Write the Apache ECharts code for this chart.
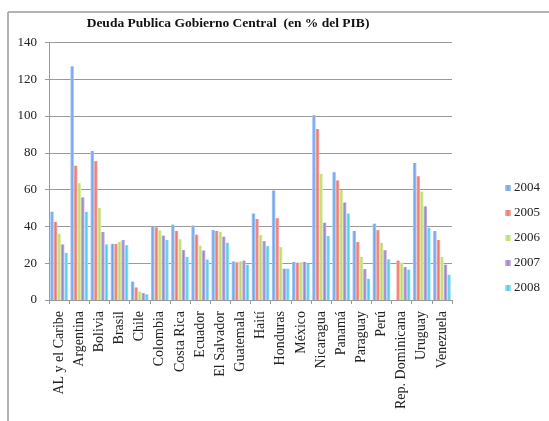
<!DOCTYPE html>
<html>
<head>
<meta charset="utf-8">
<title>Deuda Publica</title>
<script src="https://cdn.jsdelivr.net/npm/echarts@6/dist/echarts.min.js"></script>
<style>
  html, body { margin: 0; padding: 0; background: #fff; }
  #main { width: 549px; height: 421px; }
</style>
</head>
<body>
<div id="main"></div>
<script type="text/javascript">
var paises = ['AL y el Caribe', 'Argentina', 'Bolivia', 'Brasil', 'Chile', 'Colombia', 'Costa Rica',
  'Ecuador', 'El Salvador', 'Guatemala', 'Haití', 'Honduras', 'México', 'Nicaragua', 'Panamá',
  'Paraguay', 'Perú', 'Rep. Dominicana', 'Uruguay', 'Venezuela'];
var anios = ['2004', '2005', '2006', '2007', '2008'];

var d2004 = [48, 127, 81, 30.5, 10, 40, 41, 40.5, 38, 21, 47, 59.5, 20.7, 100.5, 69.5, 37.5, 41.5, null, 74.5, 37.5];
var d2005 = [42.5, 73, 75.5, 30.5, 6.8, 39.5, 37.5, 35.5, 37.5, 20.5, 44, 44.5, 20.3, 93, 65, 31.5, 38, 21.4, 67.3, 32.6];
var d2006 = [36, 63.5, 50, 31.6, 4.6, 37.8, 33, 29.6, 37, 21, 35.3, 28.7, 20.5, 68.6, 59.8, 23.4, 31, 20.3, 58.9, 23.4];
var d2007 = [30.2, 55.8, 37, 32.6, 3.7, 35, 27.1, 26.9, 34.4, 21.4, 32, 17, 20.7, 42, 53, 16.8, 27.1, 17.9, 50.9, 19.2];
var d2008 = [25.6, 47.9, 30.2, 29.8, 3.1, 32.6, 23.4, 22, 31.1, 19.2, 29.3, 17, 19.8, 34.8, 47, 11.5, 22.1, 16.5, 39.3, 13.7];

var yTicks = [0, 20, 40, 60, 80, 100, 120, 140];

var colores = [
  ['#b3d0f8', '#6ea3ea'],
  ['#f8b5ae', '#ec766d'],
  ['#e6f3b8', '#b8da68'],
  ['#d0c1ea', '#9b82c9'],
  ['#ace9f8', '#4fc8ea']
];

var myChart = echarts.init(document.getElementById('main'));

function grad(c) {
  return new echarts.graphic.LinearGradient(0, 0, 1, 0, [
    { offset: 0, color: c[0] },
    { offset: 0.5, color: c[1] },
    { offset: 1, color: c[0] }
  ]);
}

var datos = [d2004, d2005, d2006, d2007, d2008];
var series = anios.map(function (a, i) {
  return {
    name: a,
    type: 'bar',
    barGap: '0%',
    barCategoryGap: '12%',
    itemStyle: { color: grad(colores[i]) },
    data: datos[i]
  };
});

var serif = '"Liberation Serif", "DejaVu Serif", serif';

var option = {
  backgroundColor: '#fff',
  animation: false,
  color: colores.map(function (c) { return c[1]; }),
  title: {
    text: 'Deuda Publica Gobierno Central  (en % del PIB)',
    left: 223,
    textAlign: 'center',
    top: 12,
    textStyle: { fontFamily: serif, fontSize: 13.5, fontWeight: 'bold', color: '#111' }
  },
  legend: {
    orient: 'vertical',
    left: 500,
    top: 176,
    itemWidth: 6,
    itemHeight: 6,
    itemGap: 11,
    icon: 'rect',
    textStyle: { fontFamily: serif, fontSize: 13, color: '#222', lineHeight: 14, padding: [0, 0, 0, -2] },
    data: anios
  },
  grid: { left: 49, right: 97, top: 42.5, bottom: 121 },
  xAxis: {
    type: 'category',
    data: paises,
    axisLine: { lineStyle: { color: '#999' } },
    axisTick: { show: true, length: 4, lineStyle: { color: '#999' } },
    axisLabel: {
      interval: 0,
      rotate: 90,
      margin: 11,
      fontFamily: serif,
      fontSize: 14,
      color: '#222'
    }
  },
  yAxis: {
    type: 'value',
    min: 0,
    max: 140,
    interval: 20,
    axisLine: { show: true, lineStyle: { color: '#999' } },
    axisTick: { show: true, length: 4, lineStyle: { color: '#999' } },
    axisLabel: {
      margin: 12,
      fontFamily: serif,
      fontSize: 13,
      color: '#222',
      formatter: function (v) { return yTicks.indexOf(v) >= 0 ? String(v) : ''; }
    },
    splitLine: { lineStyle: { color: '#9a9a9a', width: 1 } }
  },
  graphic: [
    { type: 'line', shape: { x1: 8, y1: 12, x2: 549, y2: 12 }, style: { stroke: '#b3b3b3', lineWidth: 2 } },
    { type: 'line', shape: { x1: 8, y1: 12, x2: 8, y2: 421 }, style: { stroke: '#b3b3b3', lineWidth: 2 } }
  ],
  series: series
};

myChart.setOption(option);
</script>
</body>
</html>
